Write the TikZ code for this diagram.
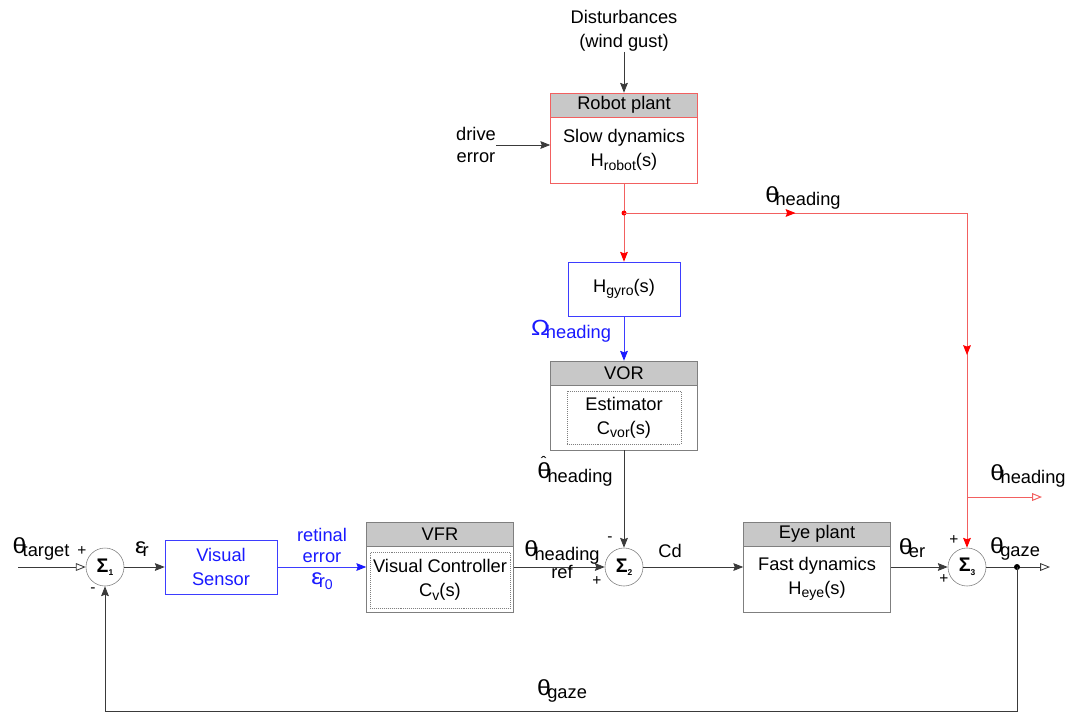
\documentclass[tikz,border=0pt]{standalone}
\usepackage{fontspec}
\setmainfont{Liberation Sans}
\usepackage{xcolor}
\definecolor{wireGray}{HTML}{3A3A3A}
\definecolor{boxGray}{HTML}{7F7F7F}
\definecolor{headGray}{HTML}{C8C8C8}
\definecolor{plantRed}{HTML}{F26060}
\definecolor{tipRed}{HTML}{FF0000}
\definecolor{sensorBlue}{HTML}{3D3DFF}
\definecolor{textBlue}{HTML}{1A1AFF}
\usepackage{tikz}
\usetikzlibrary{arrows.meta, positioning, decorations.markings}

% wide greek letter, as drawn in the signal names
\newcommand{\gk}[1]{\raisebox{1.2pt}{\scalebox{1.35}[1.2]{#1}}}
% letter with a lowered index, same size (theta_heading)
\newcommand{\lsub}[2]{\gk{#1}\kern-2.5pt\raisebox{-1.2pt}{#2}}
% letter with a small lowered index (H_robot)
\newcommand{\ssub}[2]{#1\raisebox{-2.5pt}{\fontsize{10}{10}\selectfont #2}}
% theta with a hat
\newcommand{\thhat}{\makebox[0pt][l]{\raisebox{7pt}{\kern1.9pt\fontsize{9}{9}\selectfont\symbol{"02C6}}}θ}
% summation label
\newcommand{\sumlbl}[1]{{\fontsize{14}{14}\selectfont\bfseries Σ}\raisebox{-2.5pt}{\fontsize{6}{6}\selectfont\bfseries #1}}

\begin{document}
\begin{tikzpicture}[
    x=0.025cm, y=-0.025cm,
    font=\fontsize{13}{17}\selectfont,
    block/.style={
        draw=boxGray,
        fill=white,
        minimum width=3.675cm,
        minimum height=2.25cm,
        inner sep=0pt
    },
    head/.style={
        draw=boxGray,
        fill=headGray,
        anchor=north,
        minimum width=3.675cm,
        minimum height=0.6cm,
        inner sep=0pt
    },
    inbox/.style={
        draw=boxGray,
        densely dotted,
        align=center,
        inner sep=0pt
    },
    bluebox/.style={
        draw=sensorBlue,
        fill=white,
        minimum width=2.8cm,
        minimum height=1.35cm,
        align=center,
        inner sep=0pt
    },
    sum/.style={
        circle,
        draw=boxGray,
        fill=white,
        minimum size=0.95cm,
        inner sep=0pt
    },
    wire/.style={draw=wireGray, line width=0.6pt},
    arr/.style={wire, -{Stealth[length=7pt, width=5.5pt, inset=1pt]}},
    openarr/.style={wire, -{Triangle[open, length=7pt, width=5.5pt]}},
    redwire/.style={draw=plantRed, line width=0.7pt},
    redarr/.style={redwire, -{Stealth[length=7pt, width=5.5pt, inset=1pt, color=tipRed]}},
    redopen/.style={redwire, -{Triangle[open, length=7pt, width=5.5pt]}},
    midred/.style={
        postaction={decorate},
        decoration={markings, mark=at position 0.5 with {\arrow{Stealth[length=7pt, width=5.5pt, inset=1pt, color=tipRed]}}}
    },
    bluearr/.style={draw=sensorBlue, line width=0.6pt, -{Stealth[length=7pt, width=5.5pt, inset=1pt, color=textBlue]}},
    sign/.style={font=\fontsize{11}{11}\selectfont, inner sep=0pt},
    lbl/.style={inner sep=0pt, align=center}
]
\useasboundingbox (0,0) rectangle (1071,713);

% Robot plant
\node[block, draw=plantRed] (robot) at (624,138) {};
\node[head, draw=plantRed] (roboth) at (robot.north) {Robot plant};
\node[lbl] (robotb) at (624,150) {Slow dynamics\\\ssub{H}{robot}(s)};

\node[lbl] (dist) at (624,31) {Disturbances\\(wind gust)};
\node[lbl, font=\fontsize{13}{15}\selectfont] (drive) at (476,145) {drive\\error};
\draw[arr] (dist) -- (robot);
\draw[arr] (drive.east) -- (drive.east -| robot.west);

% Gyro and VOR
\node[bluebox] (gyro) at (624,289) {\ssub{H}{gyro}(s)};
\node[block, minimum height=2.225cm] (vor) at (624,405.5) {};
\node[head] (vorh) at (vor.north) {VOR};
\node[inbox, minimum width=2.85cm, minimum height=1.325cm] (vorin) at (624,417.5) {Estimator\\\ssub{C}{vor}(s)};

% Heading branch
\coordinate (split) at (624,213);
\coordinate (hcorner) at (967,213);
\coordinate (hbranch) at (967,497);
\coordinate (hout) at (1042,497);
\draw[redwire] (robot) -- (split);
\draw[redarr] (split) -- (gyro);
\fill[tipRed] (split) circle (2.5);
\draw[redwire, midred] (split) -- (hcorner);
\draw[redwire, midred] (hcorner) -- (hbranch);
\node[lbl] (thhead) at (803,198) {\lsub{θ}{heading}};
\node[lbl] (thout) at (1028,476) {\lsub{θ}{heading}};

\draw[bluearr] (gyro) -- (vor);
\node[lbl, text=textBlue] (omega) at (571,331) {\lsub{Ω}{heading}};

% Main loop
\node[sum] (s1) at (105,567) {\sumlbl{1}};
\node[bluebox, text=textBlue] (sensor) at (221,567) {Visual\\Sensor};
\node[block] (vfr) at (440,567) {};
\node[head] (vfrh) at (vfr.north) {VFR};
\node[inbox, minimum width=3.5cm, minimum height=1.4cm] (vfrin) at (440,580) {Visual Controller\\\ssub{C}{v}(s)};
\node[sum] (s2) at (624,567) {\sumlbl{2}};
\node[block] (eye) at (817,567) {};
\node[head] (eyeh) at (eye.north) {Eye plant};
\node[lbl] (eyeb) at (817,579) {Fast dynamics\\\ssub{H}{eye}(s)};
\node[sum] (s3) at (967,567) {\sumlbl{3}};

\draw[redarr] (hbranch) -- (s3);
\draw[redopen] (hbranch) -- (hout);

\draw[arr] (vor) -- (s2);
\node[lbl] (thhat) at (575,471) {\lsub{\thhat}{heading}};

\coordinate (in) at (18,567);
\coordinate (gz) at (1017,567);
\coordinate (out) at (1050,567);
\coordinate (fbr) at (1017,711);

\draw[openarr] (in) -- (s1);
\draw[arr] (s1) -- (sensor);
\draw[bluearr] (sensor) -- (vfr);
\draw[arr] (vfr) -- (s2);
\draw[arr] (s2) -- (eye);
\draw[arr] (eye) -- (s3);
\draw[wire] (s3) -- (gz);
\draw[openarr] (gz) -- (out);
\fill[black] (gz) circle (3);
\draw[arr] (gz) -- (fbr) -| (s1);

% Signal labels
\node[lbl] (thtarget) at (41,549) {\lsub{θ}{target}};
\node[lbl] (epsr) at (142,549) {\lsub{ε}{r}};
\node[lbl, text=textBlue, font=\fontsize{13}{15}\selectfont] (retinal) at (322,545) {retinal\\error};
\node[lbl, text=textBlue] (epsr0) at (322,581) {\gk{ε}\kern-2.5pt\raisebox{-1.2pt}{r\raisebox{-1.5pt}{\fontsize{10}{10}\selectfont 0}}};
\node[lbl, font=\fontsize{13}{13}\selectfont] (thref) at (562,560) {\lsub{θ}{heading}\\ref};
\node[lbl] (cd) at (670,551) {Cd};
\node[lbl] (ther) at (912,548) {\lsub{θ}{er}};
\node[lbl] (thgaze) at (1015,549) {\lsub{θ}{gaze}};
\node[lbl] (thfb) at (562,691) {\lsub{θ}{gaze}};

% Signs
\node[sign] (p1) at (82,551) {+};
\node[sign] (m1) at (93,590) {-};
\node[sign] (m2) at (610,539) {-};
\node[sign] (p2) at (597,581) {+};
\node[sign] (p3a) at (954,540) {+};
\node[sign] (p3b) at (944,579) {+};

\end{tikzpicture}
\end{document}
